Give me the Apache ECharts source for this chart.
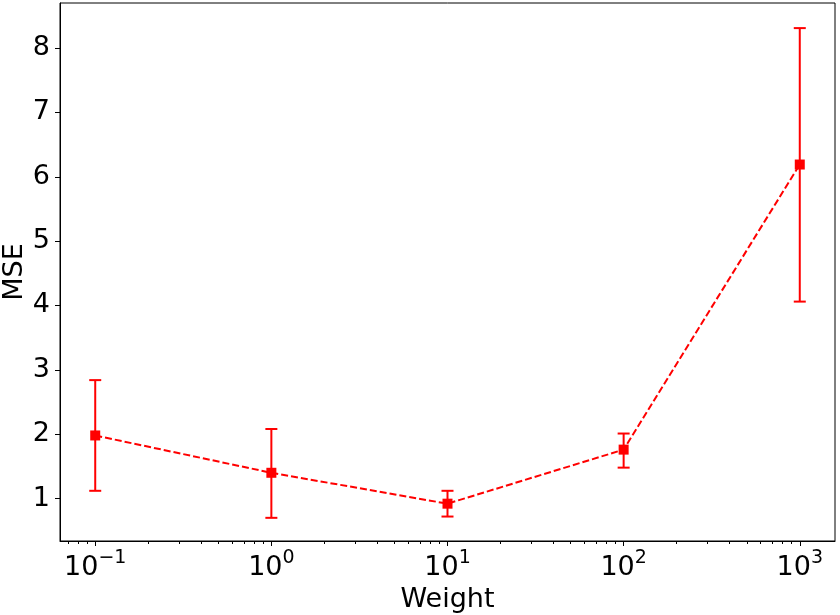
<!DOCTYPE html>
<html>
<head>
<meta charset="utf-8">
<script src="https://cdn.jsdelivr.net/npm/echarts@6/dist/echarts.min.js"></script>
<style>html,body{margin:0;padding:0;background:#fff}#c{width:840px;height:615px}</style>
</head>
<body>
<div id="c"></div>
<script>
const weights = [0.1, 1, 10, 100, 1000];
const mseMean = [1.98, 1.40, 0.92, 1.76, 6.19];
const mseLow  = [1.12, 0.70, 0.72, 1.48, 4.06];
const mseHigh = [2.84, 2.08, 1.12, 2.01, 8.31];
const xMajorTicks = [0.1, 1, 10, 100, 1000];
const xMinorTicks = [0.07, 0.08, 0.09, 0.2, 0.3, 0.4, 0.5, 0.6, 0.7, 0.8, 0.9,
  2, 3, 4, 5, 6, 7, 8, 9, 20, 30, 40, 50, 60, 70, 80, 90,
  200, 300, 400, 500, 600, 700, 800, 900];
const yTicks = [1, 2, 3, 4, 5, 6, 7, 8];

const FONT = 'DejaVu Sans';
const chart = echarts.init(document.getElementById('c'), null, {renderer: 'canvas'});

const lineData = weights.map((w, i) => [w, mseMean[i]]);
const errData = weights.map((w, i) => [w, mseLow[i], mseHigh[i]]);

const option = {
  animation: false,
  backgroundColor: '#fff',
  grid: {left: 60, right: 5, top: 3, bottom: 74, containLabel: false, outerBoundsMode: 'none',
    show: true, borderColor: '#000', borderWidth: 1, backgroundColor: 'transparent'},
  xAxis: [{
    type: 'log', logBase: 10, min: Math.pow(10, -1.2), max: Math.pow(10, 3.2),
    name: 'Weight', nameLocation: 'middle', nameGap: 45, nameMoveOverlap: false,
    nameTextStyle: {fontFamily: FONT, fontSize: 27, color: '#000'},
    axisLine: {show: true, lineStyle: {color: '#000', width: 1}},
    axisTick: {show: true, length: 5, inside: false, customValues: xMajorTicks, lineStyle: {color: '#000', width: 1}},
    axisLabel: {
      show: true, margin: 8, customValues: xMajorTicks, color: '#000',
      formatter: function (v) {
        const e = Math.round(Math.log10(v));
        return '{a|10}{s|' + (e < 0 ? '\u2212' + (-e) : e) + '}';
      },
      rich: {
        a: {fontFamily: FONT, fontSize: 27, color: '#000', verticalAlign: 'bottom'},
        s: {fontFamily: FONT, fontSize: 19, color: '#000', verticalAlign: 'bottom', padding: [0, 0, 13, 0]}
      }
    },
    splitLine: {show: false}
  }, {
    type: 'log', logBase: 10, min: Math.pow(10, -1.2), max: Math.pow(10, 3.2),
    position: 'bottom', gridIndex: 0,
    axisLine: {show: false},
    axisTick: {show: true, length: 3, customValues: xMinorTicks, lineStyle: {color: '#000', width: 1}},
    axisLabel: {show: false},
    splitLine: {show: false}
  }],
  yAxis: {
    type: 'value', min: 0.34, max: 8.7,
    name: 'MSE', nameLocation: 'middle', nameGap: 32, nameRotate: 90, nameMoveOverlap: false,
    nameTextStyle: {fontFamily: FONT, fontSize: 27, color: '#000'},
    axisLine: {show: true, lineStyle: {color: '#000', width: 1}},
    axisTick: {show: true, length: 5, customValues: yTicks, lineStyle: {color: '#000', width: 1}},
    axisLabel: {show: true, margin: 10, customValues: yTicks, fontFamily: FONT, fontSize: 27, color: '#000'},
    splitLine: {show: false}
  },
  series: [{
    type: 'custom',
    xAxisIndex: 0,
    z: 2,
    renderItem: function (params, api) {
      const x = api.value(0);
      const lo = api.coord([x, api.value(1)]);
      const hi = api.coord([x, api.value(2)]);
      const cw = 6;
      const st = {stroke: '#ff0000', lineWidth: 2};
      return {
        type: 'group',
        children: [
          {type: 'line', shape: {x1: lo[0], y1: lo[1], x2: hi[0], y2: hi[1]}, style: st},
          {type: 'line', shape: {x1: lo[0] - cw, y1: lo[1], x2: lo[0] + cw, y2: lo[1]}, style: st},
          {type: 'line', shape: {x1: hi[0] - cw, y1: hi[1], x2: hi[0] + cw, y2: hi[1]}, style: st}
        ]
      };
    },
    encode: {x: 0, y: [1, 2]},
    data: errData
  }, {
    type: 'line',
    xAxisIndex: 0,
    z: 3,
    data: lineData,
    symbol: 'rect', symbolSize: 10,
    itemStyle: {color: '#ff0000'},
    lineStyle: {color: '#ff0000', width: 2, type: [7, 3]}
  }]
};
chart.setOption(option);
</script>
</body>
</html>
